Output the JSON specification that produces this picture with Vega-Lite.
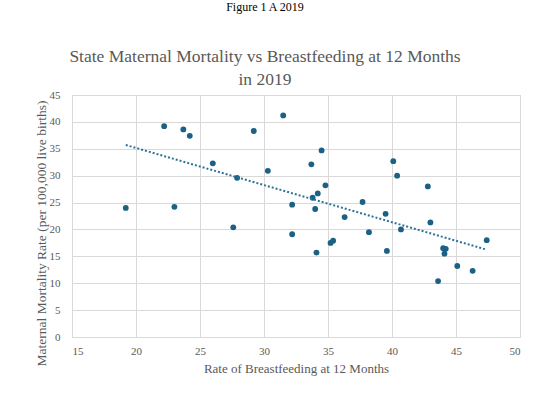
{
  "$schema": "https://vega.github.io/schema/vega-lite/v6.json",
  "autosize": "none",
  "width": 448,
  "height": 242,
  "padding": {"left": 72, "top": 95, "right": 30, "bottom": 59},
  "background": "white",
  "title": {
    "text": "Figure 1 A 2019",
    "subtitle": ["State Maternal Mortality vs Breastfeeding at 12 Months", "in 2019"],
    "anchor": "middle",
    "dx": -31,
    "dy": 8,
    "offset": 8,
    "font": "Liberation Serif",
    "fontSize": 12,
    "fontWeight": "normal",
    "color": "black",
    "subtitleFont": "Liberation Serif",
    "subtitleFontSize": 17.5,
    "subtitleColor": "#595959",
    "subtitleLineHeight": 23,
    "subtitlePadding": 34
  },
  "config": {
    "title": {"font": "Liberation Serif", "subtitleFont": "Liberation Serif"},
    "view": {"stroke": "#d9d9d9", "strokeWidth": 1},
    "axis": {
      "labelFont": "Liberation Serif",
      "titleFont": "Liberation Serif",
      "labelColor": "#595959",
      "titleColor": "#595959",
      "labelFontSize": 11,
      "titleFontSize": 13,
      "titleFontWeight": "normal",
      "gridColor": "#d9d9d9",
      "domainColor": "#d9d9d9",
      "ticks": false,
      "labelOverlap": false
    }
  },
  "data": {
    "values": [
      {"bf": 19.2, "mm": 24.0},
      {"bf": 22.2, "mm": 39.2},
      {"bf": 23.7, "mm": 38.6},
      {"bf": 24.2, "mm": 37.4},
      {"bf": 23.0, "mm": 24.2},
      {"bf": 26.0, "mm": 32.3},
      {"bf": 27.9, "mm": 29.6},
      {"bf": 27.6, "mm": 20.4},
      {"bf": 29.2, "mm": 38.3},
      {"bf": 30.3, "mm": 30.9},
      {"bf": 31.5, "mm": 41.2},
      {"bf": 32.2, "mm": 24.6},
      {"bf": 32.2, "mm": 19.1},
      {"bf": 34.5, "mm": 34.7},
      {"bf": 33.7, "mm": 32.1},
      {"bf": 34.8, "mm": 28.2},
      {"bf": 34.2, "mm": 26.7},
      {"bf": 33.8, "mm": 25.9},
      {"bf": 34.0, "mm": 23.8},
      {"bf": 37.7, "mm": 25.1},
      {"bf": 36.3, "mm": 22.3},
      {"bf": 39.5, "mm": 22.9},
      {"bf": 38.2, "mm": 19.5},
      {"bf": 40.1, "mm": 32.7},
      {"bf": 40.4, "mm": 30.0},
      {"bf": 42.8, "mm": 28.0},
      {"bf": 40.7, "mm": 20.0},
      {"bf": 43.0, "mm": 21.3},
      {"bf": 35.2, "mm": 17.5},
      {"bf": 35.4, "mm": 17.9},
      {"bf": 34.1, "mm": 15.7},
      {"bf": 39.6, "mm": 16.0},
      {"bf": 44.0, "mm": 16.5},
      {"bf": 44.2, "mm": 16.4},
      {"bf": 44.1, "mm": 15.5},
      {"bf": 45.1, "mm": 13.2},
      {"bf": 46.3, "mm": 12.3},
      {"bf": 43.6, "mm": 10.4},
      {"bf": 47.4, "mm": 18.0}
    ]
  },
  "encoding": {
    "x": {
      "field": "bf", "type": "quantitative",
      "scale": {"domain": [15, 50], "nice": false},
      "axis": {"values": [15, 20, 25, 30, 35, 40, 45, 50], "title": "Rate of Breastfeeding at 12 Months", "labelPadding": 8, "titlePadding": 6}
    },
    "y": {
      "field": "mm", "type": "quantitative",
      "scale": {"domain": [0, 45], "nice": false},
      "axis": {"values": [0, 5, 10, 15, 20, 25, 30, 35, 40, 45], "title": "Maternal Mortality Rate (per 100,000 live births)", "labelPadding": 12, "titlePadding": 1, "titleFontSize": 13.5, "titleY": 138}
    }
  },
  "layer": [
    {
      "mark": {"type": "circle", "size": 34, "color": "#1b6185", "opacity": 1}
    },
    {
      "transform": [{"regression": "mm", "on": "bf"}],
      "mark": {"type": "line", "color": "#2e7196", "strokeWidth": 2, "strokeDash": [2, 2]}
    }
  ]
}
